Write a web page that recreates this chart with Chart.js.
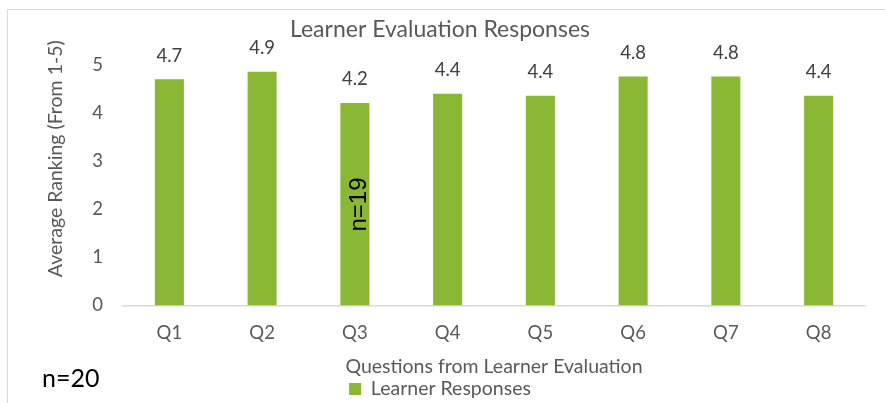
<!DOCTYPE html>
<html><head><meta charset="utf-8">
<script src="https://cdn.jsdelivr.net/npm/chart.js@4.4.0/dist/chart.umd.min.js"></script>
<style>html,body{margin:0;padding:0;background:#fff;overflow:hidden}canvas{display:block}</style>
</head><body>
<canvas id="c" width="885" height="403"></canvas>
<script>
const categories = ['Q1', 'Q2', 'Q3', 'Q4', 'Q5', 'Q6', 'Q7', 'Q8'];
const responses = [4.70, 4.86, 4.21, 4.40, 4.36, 4.76, 4.76, 4.36];
const yTickValues = [0, 1, 2, 3, 4, 5];
const titleText = 'Learner Evaluation Responses';
const yTitle = 'Average Ranking (From 1-5)';
const xTitle = 'Questions from Learner Evaluation';
const seriesName = 'Learner Responses';
const noteTotal = 'n=20';
const noteQ3 = 'n=19';

const GREEN = '#8ab734';
const GREY = '#595959';
const FONT = 'Lato';

const framePlugin = {
  id: 'frame',
  beforeDraw(chart) {
    const ctx = chart.ctx;
    ctx.save();
    ctx.fillStyle = '#ffffff';
    ctx.fillRect(0, 0, chart.width, chart.height);
    ctx.strokeStyle = '#d9d9d9';
    ctx.lineWidth = 1;
    ctx.strokeRect(7.5, 9.5, 1000, 1000);
    ctx.restore();
  }
};

const dataLabelPlugin = {
  id: 'dataLabels',
  afterDatasetsDraw(chart) {
    const ctx = chart.ctx;
    const meta = chart.getDatasetMeta(0);
    ctx.save();
    ctx.font = '18.5px ' + FONT;
    ctx.fillStyle = '#404040';
    ctx.textAlign = 'center';
    ctx.textBaseline = 'alphabetic';
    meta.data.forEach((bar, i) => {
      const v = chart.data.datasets[0].data[i];
      ctx.fillText(v.toFixed(1), bar.x, bar.y - 17.5);
    });
    ctx.restore();
  }
};

const notesPlugin = {
  id: 'notes',
  afterDraw(chart) {
    const ctx = chart.ctx;
    const xs = chart.scales.x, ys = chart.scales.y;
    ctx.save();
    ctx.fillStyle = '#000000';
    ctx.font = '25px ' + FONT;
    ctx.textAlign = 'left';
    ctx.textBaseline = 'alphabetic';
    ctx.fillText(noteTotal, 42, 387);
    const cx = xs.getPixelForValue(2) + 3;
    const cy = ys.getPixelForValue(2.1);
    ctx.translate(cx, cy);
    ctx.rotate(-Math.PI / 2);
    ctx.font = '24px "Liberation Sans"';
    ctx.textAlign = 'center';
    ctx.fillText(noteQ3, 0, 8.4);
    ctx.restore();
  }
};

new Chart(document.getElementById('c'), {
  type: 'bar',
  data: {
    labels: categories,
    datasets: [{
      label: seriesName,
      data: responses,
      backgroundColor: GREEN,
      borderWidth: 0,
      barPercentage: 0.313,
      categoryPercentage: 1.0
    }]
  },
  options: {
    responsive: false,
    animation: false,
    devicePixelRatio: 1,
    layout: { padding: { left: 15, right: 20, top: 12, bottom: 0 } },
    plugins: {
      tooltip: { enabled: false },
      title: {
        display: true,
        text: titleText,
        color: GREY,
        font: { family: FONT, size: 23, weight: 'normal' },
        padding: { top: 4.2, bottom: -31.8 }
      },
      legend: {
        display: true,
        position: 'bottom',
        maxHeight: 27.75,
        labels: {
          boxWidth: 12,
          boxHeight: 12,
          padding: 4,
          color: GREY,
          font: { family: FONT, size: 19.5 }
        }
      }
    },
    scales: {
      x: {
        grid: { display: false, drawTicks: false },
        border: { display: true, color: '#d9d9d9', width: 1.5 },
        ticks: { color: GREY, font: { family: FONT, size: 18.5 }, padding: 16.4 },
        title: {
          display: true,
          text: xTitle,
          color: GREY,
          font: { family: FONT, size: 19.5 },
          padding: { top: -5.2, bottom: -3.45 }
        }
      },
      y: {
        min: 0,
        max: 6.1,
        grid: { display: false, drawTicks: true, tickLength: 20 },
        border: { display: false },
        ticks: { color: GREY, font: { family: FONT, size: 18.5 }, padding: 0 },
        afterBuildTicks(axis) { axis.ticks = yTickValues.map(v => ({ value: v })); },
        afterFit(axis) { axis.width = 108; },
        title: {
          display: true,
          text: yTitle,
          color: GREY,
          font: { family: FONT, size: 19.5 },
          padding: { top: 29.3, bottom: 0 }
        }
      }
    }
  },
  plugins: [framePlugin, dataLabelPlugin, notesPlugin]
});
</script>
</body></html>
